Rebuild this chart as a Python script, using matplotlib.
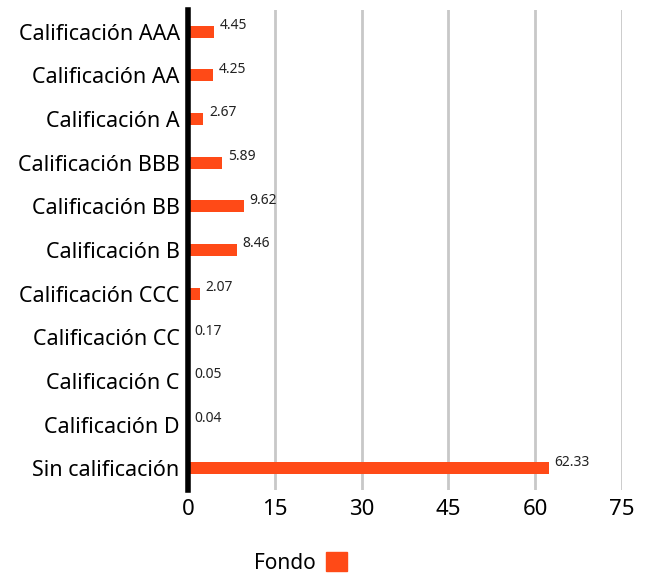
import matplotlib.pyplot as plt
from matplotlib.patches import Patch

# Data
categorias = ['Calificación AAA', 'Calificación AA', 'Calificación A', 'Calificación BBB',
              'Calificación BB', 'Calificación B', 'Calificación CCC', 'Calificación CC',
              'Calificación C', 'Calificación D', 'Sin calificación']
fondo = [4.45, 4.25, 2.67, 5.89, 9.62, 8.46, 2.07, 0.17, 0.05, 0.04, 62.33]
xticks = [0, 15, 30, 45, 60, 75]

color = '#FF4A17'
plt.rcParams['font.family'] = ['Noto Sans', 'DejaVu Sans']

fig = plt.figure(figsize=(6.45, 5.76), dpi=100)
ax = fig.add_axes([0.2915, 0.149, 0.6728, 0.834])

pos = list(range(len(categorias)))
ax.barh(pos, fondo, height=0.27, color=color, zorder=3)
for y, v in zip(pos, fondo):
    ax.text(v + 1.0, y - 0.14, f'{v:.2f}', fontsize=10, va='center', ha='left', color='#222222')

ax.set_yticks(pos)
ax.set_yticklabels(categorias, fontsize=15.5)
ax.invert_yaxis()
ax.set_ylim(10.5, -0.5)
ax.set_xlim(0, 75)
ax.set_xticks(xticks)
ax.set_xticklabels([str(t) for t in xticks], fontsize=16)
ax.tick_params(length=0)
ax.tick_params(axis='x', pad=6)
ax.tick_params(axis='y', pad=6)

ax.grid(axis='x', color='#c8c8c8', linewidth=2, zorder=0)
ax.set_axisbelow(True)
for s in ['top', 'right', 'bottom']:
    ax.spines[s].set_visible(False)
ax.spines['left'].set_linewidth(4)
ax.spines['left'].set_color('black')
ax.spines['left'].set_zorder(4)

fig.legend(handles=[Patch(color=color, label='Fondo')], loc='center',
           bbox_to_anchor=(300 / 645, 1 - 563 / 576), frameon=False, fontsize=15,
           markerfirst=False, handlelength=1.0, handleheight=1.0, handletextpad=0.5)

fig.savefig('out.png', dpi=100)
